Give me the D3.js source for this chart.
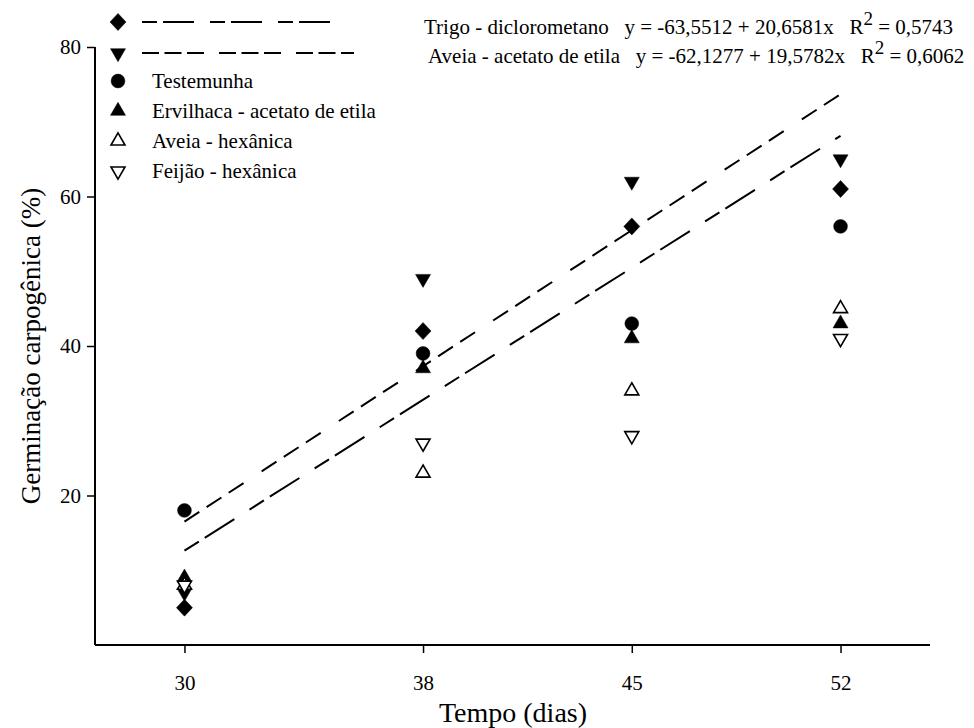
<!DOCTYPE html>
<html>
<head>
<meta charset="utf-8">
<script src="https://cdn.jsdelivr.net/npm/d3@7"></script>
<style>
  html, body { margin: 0; padding: 0; background: #fff; }
  svg { display: block; }
  text { font-family: "Liberation Serif", "Times New Roman", serif; fill: #000; }
</style>
</head>
<body>
<svg id="chart" width="974" height="728"></svg>
<script>
// Sampling days and germination (%) per treatment
const days = [30, 38, 45, 52];
const trigoDiclorometano = [5, 42, 56, 61];
const aveiaAcetato = [7, 49, 62, 65];
const testemunha = [18, 39, 43, 56];
const ervilhacaAcetato = [9, 37, 41, 43];
const aveiaHexanica = [8, 23, 34, 45];
const feijaoHexanica = [8, 27, 28, 41];
const yTicks = [20, 40, 60, 80];

const seriesNames = ["Trigo - diclorometano", "Aveia - acetato de etila", "Testemunha",
  "Ervilhaca - acetato de etila", "Aveia - hexânica", "Feijão - hexânica"];
const equations = [
  { name: "Trigo - diclorometano", eq: "y = -63,5512 + 20,6581x", r2: "0,5743" },
  { name: "Aveia - acetato de etila", eq: "y = -62,1277 + 19,5782x", r2: "0,6062" }
];

const FONT = "Liberation Serif";
const svg = d3.select("#chart");
const margin = { left: 95, right: 44, top: 47, bottom: 83 };
const W = 974, H = 728;

const x = d3.scaleLinear().domain([27, 55]).range([margin.left, W - margin.right]);
const y = d3.scaleLinear().domain([0, 80]).range([H - margin.bottom, margin.top]);

// marker shapes
function tri(up, s) {
  const h = s * Math.sqrt(3) / 2;
  return up
    ? `M0,${-h * 2 / 3}L${s / 2},${h / 3}L${-s / 2},${h / 3}Z`
    : `M0,${h * 2 / 3}L${s / 2},${-h / 3}L${-s / 2},${-h / 3}Z`;
}
const shapes = {
  diamond: () => "M0,-8.5L8,0L0,8.5L-8,0Z",
  downFilled: () => tri(false, 15),
  circle: () => d3.symbol().type(d3.symbolCircle).size(150)(),
  upFilled: () => tri(true, 15),
  upOpen: () => tri(true, 14),
  downOpen: () => tri(false, 14)
};
const series = [
  { name: seriesNames[0], values: trigoDiclorometano, shape: "diamond", fill: "#000" },
  { name: seriesNames[1], values: aveiaAcetato, shape: "downFilled", fill: "#000" },
  { name: seriesNames[2], values: testemunha, shape: "circle", fill: "#000" },
  { name: seriesNames[3], values: ervilhacaAcetato, shape: "upFilled", fill: "#000" },
  { name: seriesNames[4], values: aveiaHexanica, shape: "upOpen", fill: "#fff" },
  { name: seriesNames[5], values: feijaoHexanica, shape: "downOpen", fill: "#fff" }
];

// least-squares line through a series
function fit(vals) {
  const mx = d3.mean(days), my = d3.mean(vals);
  const b = d3.sum(days, (d, i) => (d - mx) * (vals[i] - my)) / d3.sum(days, d => (d - mx) ** 2);
  return t => my + b * (t - mx);
}
const dashTrigo = "17 7 35 18";
const dashAveia = "17.7 8.7 17.7 8.7 17.7 21.6";
const fits = [
  { f: fit(trigoDiclorometano), dash: dashTrigo },
  { f: fit(aveiaAcetato), dash: dashAveia }
];
const x0 = d3.min(days), x1 = d3.max(days);
svg.append("g").selectAll("line").data(fits).join("line")
  .attr("x1", x(x0)).attr("y1", d => y(d.f(x0)))
  .attr("x2", x(x1)).attr("y2", d => y(d.f(x1)))
  .attr("stroke", "#000").attr("stroke-width", 2)
  .attr("stroke-dasharray", d => d.dash);

// axes
const xAxis = d3.axisBottom(x).tickValues(days).tickSize(8).tickPadding(22).tickFormat(d3.format("d"));
const yAxis = d3.axisLeft(y).tickValues(yTicks).tickSize(8).tickPadding(6);
const gx = svg.append("g").attr("transform", `translate(0,${y(0)})`).call(xAxis);
const gy = svg.append("g").attr("transform", `translate(${x(27)},0)`).call(yAxis);
[gx, gy].forEach(g => {
  g.attr("font-family", FONT).attr("font-size", 21);
  g.select(".domain").attr("stroke", "#000").attr("stroke-width", 2)
    .attr("d", g === gx ? `M${x(27)},0H${x(55)}` : `M0,${y(0)}V${y(80)}`);
  g.selectAll(".tick line").attr("stroke", "#000").attr("stroke-width", 1.5);
  g.selectAll(".tick text").attr("font-family", FONT).attr("font-size", 21);
});

// points
series.forEach(s => {
  svg.append("g").selectAll("path").data(s.values).join("path")
    .attr("transform", (v, i) => `translate(${x(days[i])},${y(v)})`)
    .attr("d", shapes[s.shape]())
    .attr("fill", s.fill).attr("stroke", "#000").attr("stroke-width", s.fill === "#fff" ? 1.6 : 0.5);
});

// axis titles
svg.append("text").attr("x", 513).attr("y", 722)
  .attr("text-anchor", "middle").attr("font-size", 28).text("Tempo (dias)");
svg.append("text").attr("transform", `translate(40,${y(40)}) rotate(-90)`)
  .attr("text-anchor", "middle").attr("font-size", 27).text("Germinação carpogênica (%)");

// legend
const legY = [22, 53, 81, 111, 141, 171];
const leg = svg.append("g");
series.forEach((s, i) => {
  leg.append("path").attr("transform", `translate(118,${legY[i]})`)
    .attr("d", shapes[s.shape]()).attr("fill", s.fill).attr("stroke", "#000")
    .attr("stroke-width", s.fill === "#fff" ? 1.6 : 0.5);
  if (i < 2) {
    leg.append("line").attr("x1", 142).attr("x2", i === 0 ? 332 : 354)
      .attr("y1", legY[i]).attr("y2", legY[i]).attr("stroke", "#000").attr("stroke-width", 2)
      .attr("stroke-dasharray", i === 0 ? "15 6 31 16" : "17 5.5 17 5.5 17 15");
  } else {
    leg.append("text").attr("x", 152).attr("y", legY[i] + 7).attr("font-size", 21).text(s.name);
  }
});

// regression equations
const eqStart = [424, 428];
equations.forEach((e, i) => {
  const t = svg.append("text").attr("x", eqStart[i]).attr("y", 34 + i * 29)
    .attr("font-size", 21).attr("xml:space", "preserve");
  t.append("tspan").text(`${e.name}   ${e.eq}   R`);
  t.append("tspan").attr("dy", -9).attr("font-size", 19).text("2");
  t.append("tspan").attr("dy", 9).text(" = " + e.r2);
});
</script>
</body>
</html>
